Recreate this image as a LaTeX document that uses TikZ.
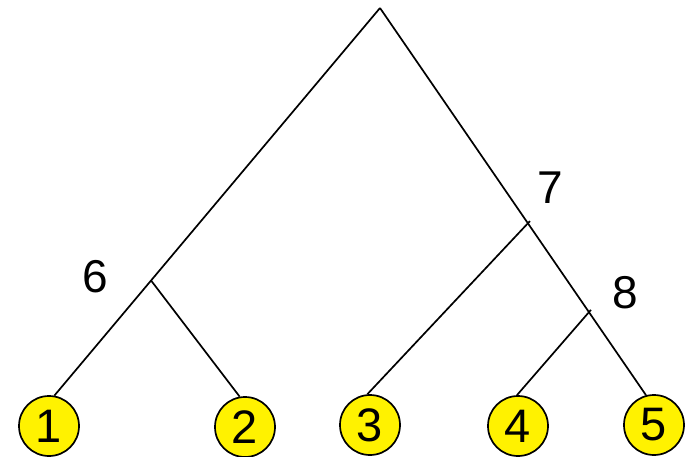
\documentclass[tikz,border=0pt]{standalone}
\usepackage{fontspec}
\setmainfont{Liberation Sans}
\usetikzlibrary{calc}
\begin{document}
\begin{tikzpicture}[x=1pt,y=-1pt,
  leaf/.style={circle,draw=black,fill=yellow,line width=1.7pt,minimum size=60pt,inner sep=0pt,font=\fontsize{47}{47}\selectfont},
  lbl/.style={font=\fontsize{46}{46}\selectfont,inner sep=0pt},
  edge/.style={line width=1.7pt,black}]
\useasboundingbox (0,0) rectangle (686,457);
\coordinate (root) at (380,8);
\node[leaf] (l1) at (49,426) {1};
\node[leaf] (l2) at (245,427) {2};
\node[leaf] (l3) at (370,425) {3};
\node[leaf] (l4) at (518,426) {4};
\node[leaf] (l5) at (654,425) {5};
\coordinate (e1) at (l1.80);
\coordinate (e5) at (l5.105);
\coordinate (j6) at ($(root)!0.703!(e1)$);
\coordinate (j7) at ($(root)!0.556!(e5)$);
\coordinate (j8) at ($(root)!0.7855!(e5)$);
\draw[edge] (root) -- (e1);
\draw[edge] (root) -- (e5);
\draw[edge] (j6) -- (l2.100);
\draw[edge,shorten <=-3pt] (j7) -- (l3.95);
\draw[edge,shorten <=-3pt] (j8) -- (l4.92);
\node[lbl] (n6) at (95,277) {6};
\node[lbl] (n7) at (550,188) {7};
\node[lbl] (n8) at (625,293) {8};
\end{tikzpicture}
\end{document}
